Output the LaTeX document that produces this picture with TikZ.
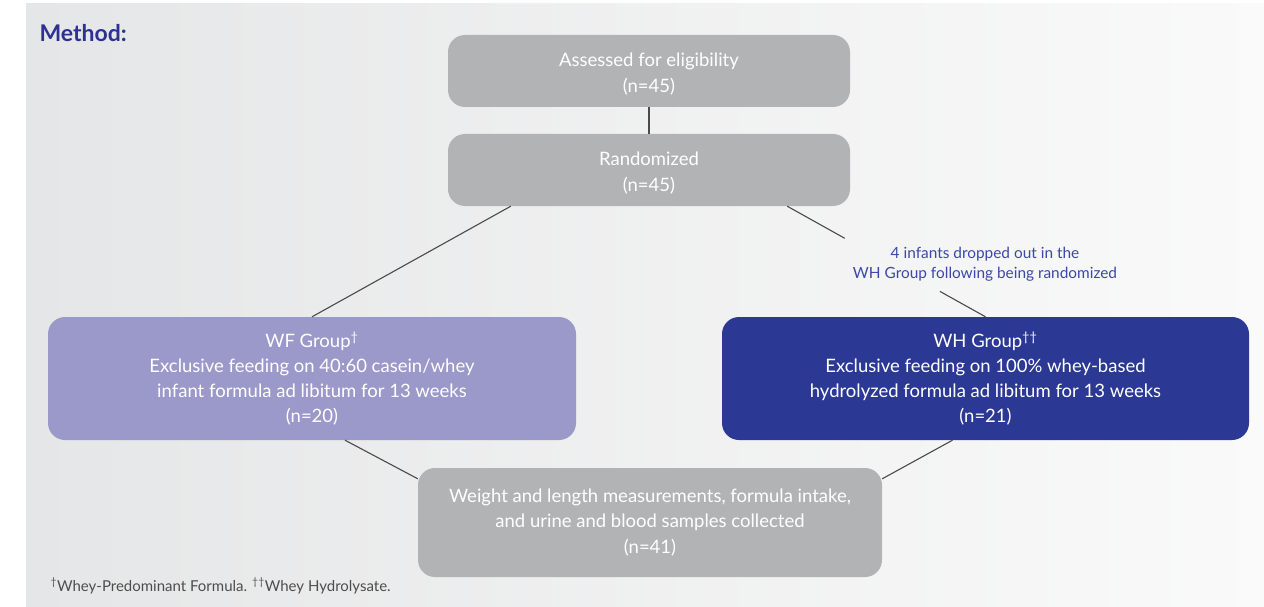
\documentclass[tikz,border=0pt]{standalone}
\usepackage{fontspec}
\setmainfont{Lato}
\usepackage{tikz}
\usepackage{xcolor}
\usetikzlibrary{calc}
\definecolor{bgLeft}{HTML}{E5E6E7}
\definecolor{bgRight}{HTML}{FAFAFA}
\definecolor{boxGray}{HTML}{B1B3B5}
\definecolor{wfLilac}{HTML}{9B98CA}
\definecolor{whNavy}{HTML}{2B3894}
\definecolor{titleBlue}{HTML}{2E3192}
\definecolor{noteBlue}{HTML}{3B48A8}
\definecolor{lineGray}{HTML}{4A4A4A}
\definecolor{footGray}{HTML}{4D4D4D}
\tikzstyle{flowbox} = [rounded corners=17pt, text=white, align=center,
   inner sep=0pt, font=\fontsize{18.5}{25}\selectfont]
\tikzstyle{grayBox} = [flowbox, fill=boxGray]
% the two top boxes sit their text a little lower
\tikzstyle{topBox} = [grayBox, minimum width=402pt, minimum height=72pt,
   font=\fontsize{18.5}{26}\selectfont, text depth=0pt]
\tikzstyle{link} = [draw=lineGray, line width=1.1pt]

\begin{document}
\begin{tikzpicture}[x=1pt,y=-1pt]
  \useasboundingbox (0,0) rectangle (1264,607);
  \shade[left color=bgLeft, right color=bgRight] (26,4) rectangle (1264,607);

  \node[anchor=base west, text=titleBlue, font=\fontsize{23}{28}\selectfont\bfseries] (title) at (36,42) {Method:};

  % boxes
  \node[topBox] (assess) at (649,71) {\rule{0pt}{17pt}Assessed for eligibility\\(n=45)};
  \node[topBox] (rand) at (649,170) {\rule{0pt}{17pt}Randomized\\(n=45)};
  \node[flowbox, fill=wfLilac, minimum width=528pt, minimum height=123pt] (wf) at (312,378.5)
     {WF Group\textsuperscript{\textdagger}\\Exclusive feeding on 40:60 casein/whey\\infant formula ad libitum for 13 weeks\\(n=20)};
  \node[flowbox, fill=whNavy, minimum width=527pt, minimum height=123pt] (wh) at (985.5,378.5)
     {WH Group\textsuperscript{\textdagger\textdagger}\\Exclusive feeding on 100\% whey-based\\hydrolyzed formula ad libitum for 13 weeks\\(n=21)};
  \node[grayBox, minimum width=464pt, minimum height=109pt, font=\fontsize{18.5}{25.5}\selectfont] (meas) at (650,522.5)
     {Weight and length measurements, formula intake,\\and urine and blood samples collected\\(n=41)};
  \node[text=noteBlue, align=center, font=\fontsize{15.4}{20}\selectfont] (drop) at (985,264)
     {4 infants dropped out in the\\WH Group following being randomized};

  % connectors
  \coordinate (rl) at ([xshift=63pt]rand.south west);
  \coordinate (rr) at ([xshift=-63pt]rand.south east);
  \draw[link] (assess) -- (rand);
  \draw[link] (rl) -- (wf.north);
  \draw[link] (rr) -- ($(rr)!0.29!(wh.north)$);
  \draw[link] ($(rr)!0.77!(wh.north)$) -- (wh.north);
  \draw[link] ([xshift=33pt]wf.south) -- ([yshift=-11pt]meas.north west);
  \draw[link] ([xshift=-33pt]wh.south) -- ([yshift=-11pt]meas.north east);

  \node[anchor=base west, text=footGray, font=\fontsize{15}{18}\selectfont] (foot) at (47,591)
     {\textsuperscript{\textdagger}Whey-Predominant Formula. \textsuperscript{\textdagger\textdagger}Whey Hydrolysate.};
\end{tikzpicture}
\end{document}
